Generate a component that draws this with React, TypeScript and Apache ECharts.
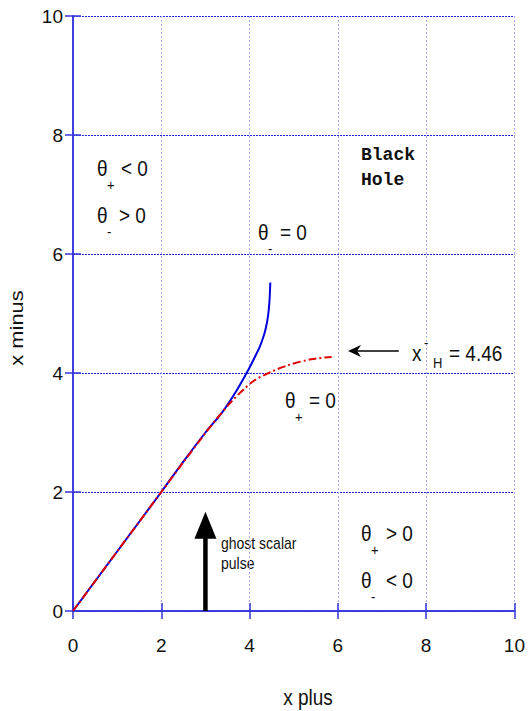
import React, { useEffect, useRef } from "react";
import * as echarts from "echarts";

// Apparent horizon curves in the (x plus, x minus) plane
const thetaMinusZero: [number, number][] = [
  [0, 0], [1, 1], [2, 2], [2.5, 2.51], [3.0, 3.0], [3.37, 3.33], [3.71, 3.71],
  [3.97, 4.05], [4.12, 4.27], [4.23, 4.44], [4.31, 4.6], [4.37, 4.76],
  [4.42, 4.97], [4.45, 5.2], [4.47, 5.52],
];
const thetaPlusZero: [number, number][] = [
  [0, 0], [1, 1], [2, 2], [2.5, 2.5], [3.0, 2.99], [3.3, 3.27], [3.59, 3.52],
  [3.89, 3.74], [4.12, 3.88], [4.49, 4.02], [4.87, 4.13], [5.39, 4.23], [5.86, 4.27],
];

// Arrow annotations: [x, yFrom, yTo] and [xFrom, xTo, y]
const pulseArrow = [3, 0, 1.67];
const horizonArrow = [7.38, 6.23, 4.37];

const xTicks = { min: 0, max: 10, interval: 2 };
const yTicks = { min: 0, max: 10, interval: 2 };

const FONT = "Liberation Sans, Arial, sans-serif";
const STRETCH = 1.15;

function label(x: number, y: number, text: string, size: number, extra: any = {}) {
  return {
    type: "text",
    x,
    y,
    scaleY: STRETCH,
    style: {
      text,
      fill: "#111",
      font: `${size}px ${FONT}`,
      textVerticalAlign: "middle",
      ...extra,
    },
  };
}

// theta with a subscript, followed by the rest of the relation
function thetaLabel(x: number, y: number, sub: string, rest: string, restX: number) {
  return [
    label(x, y, "θ", 19),
    label(x + 10, y + 17, sub, 13),
    label(restX, y, rest, 19),
  ];
}

export default function App() {
  const ref = useRef<HTMLDivElement>(null);

  useEffect(() => {
    document.body.style.margin = "0";
    if (!ref.current) return;
    const chart = echarts.init(ref.current, undefined, { renderer: "svg" });

    const axisLine = { show: true, lineStyle: { color: "#3535dd", width: 1.5 } };
    const axisTick = { show: true, inside: true, length: 8, lineStyle: { color: "#3535dd", width: 1.5 } };
    const tickLabel = { color: "#111", fontSize: 19, fontFamily: FONT };

    chart.setOption({
      animation: false,
      backgroundColor: "#fff",
      grid: { left: 73, right: 9, top: 16, bottom: 100 },
      xAxis: [
        {
          type: "value",
          ...xTicks,
          axisLine,
          axisTick,
          axisLabel: { ...tickLabel, margin: 25 },
          splitLine: { show: true, lineStyle: { color: "#a9a9f2", width: 1, type: [2, 2] } },
        },
        {
          type: "value",
          position: "top",
          ...xTicks,
          axisLine,
          axisTick,
          axisLabel: { show: false },
          splitLine: { show: false },
        },
      ],
      yAxis: [
        {
          type: "value",
          ...yTicks,
          axisLine,
          axisTick,
          axisLabel: { ...tickLabel, margin: 10 },
          splitLine: { show: true, lineStyle: { color: "#2424dc", width: 1, type: [2, 1] } },
        },
        {
          type: "value",
          position: "right",
          ...yTicks,
          axisLine,
          axisTick,
          axisLabel: { show: false },
          splitLine: { show: false },
        },
      ],
      series: [
        {
          type: "line",
          data: thetaMinusZero,
          showSymbol: false,
          smooth: 0.3,
          lineStyle: { color: "#0000dd", width: 2 },
          z: 3,
        },
        {
          type: "line",
          data: thetaPlusZero,
          showSymbol: false,
          smooth: 0.3,
          lineStyle: { color: "#e00000", width: 2, type: [8, 3, 2, 3] },
          z: 4,
        },
        {
          type: "custom",
          data: [pulseArrow],
          clip: false,
          z: 5,
          renderItem: (_params: any, api: any) => {
            const base = api.coord([api.value(0), api.value(1)]);
            const tip = api.coord([api.value(0), api.value(2)]);
            const headLen = 27;
            const headHalf = 11;
            return {
              type: "group",
              children: [
                {
                  type: "line",
                  shape: { x1: base[0], y1: base[1], x2: tip[0], y2: tip[1] + headLen - 1 },
                  style: { stroke: "#000", lineWidth: 4.5 },
                },
                {
                  type: "polygon",
                  shape: {
                    points: [
                      [tip[0], tip[1]],
                      [tip[0] - headHalf, tip[1] + headLen],
                      [tip[0] + headHalf, tip[1] + headLen],
                    ],
                  },
                  style: { fill: "#000" },
                },
              ],
            };
          },
        },
        {
          type: "custom",
          data: [horizonArrow],
          clip: false,
          z: 5,
          renderItem: (_params: any, api: any) => {
            const start = api.coord([api.value(0), api.value(2)]);
            const tip = api.coord([api.value(1), api.value(2)]);
            return {
              type: "group",
              children: [
                {
                  type: "line",
                  shape: { x1: start[0], y1: start[1], x2: tip[0] + 6, y2: tip[1] },
                  style: { stroke: "#000", lineWidth: 1.5 },
                },
                {
                  type: "polygon",
                  shape: {
                    points: [
                      [tip[0], tip[1]],
                      [tip[0] + 13, tip[1] - 6],
                      [tip[0] + 9, tip[1]],
                      [tip[0] + 13, tip[1] + 6],
                    ],
                  },
                  style: { fill: "#000" },
                },
              ],
            };
          },
        },
      ],
      graphic: [
        // axis titles
        label(308, 697, "x plus", 19, { textAlign: "center" }),
        {
          type: "text",
          x: 16,
          y: 328,
          rotation: Math.PI / 2,
          scaleX: STRETCH,
          style: {
            text: "x minus",
            fill: "#111",
            font: `19px ${FONT}`,
            textAlign: "center",
            textVerticalAlign: "middle",
          },
        },
        // region annotations
        ...thetaLabel(97, 168, "+", "< 0", 121),
        ...thetaLabel(97, 215, "-", "> 0", 119),
        ...thetaLabel(258, 232, "-", "= 0", 280),
        ...thetaLabel(285, 400, "+", "= 0", 309),
        ...thetaLabel(361, 533, "+", "> 0", 386),
        ...thetaLabel(361, 580, "-", "< 0", 386),
        {
          type: "text",
          x: 361,
          y: 167,
          style: {
            text: "Black\nHole",
            fill: "#111",
            font: `bold 18px "Liberation Mono", "Courier New", monospace`,
            lineHeight: 25,
            textVerticalAlign: "middle",
          },
        },
        // horizon label: x^-_H = 4.46
        label(412, 353, "x", 19),
        label(424, 343, "-", 13),
        label(433, 363, "H", 13),
        label(449, 353, "= 4.46", 19),
        // pulse label
        {
          type: "text",
          x: 221,
          y: 553,
          scaleY: STRETCH,
          style: {
            text: "ghost scalar\npulse",
            fill: "#111",
            font: `14px ${FONT}`,
            lineHeight: 17,
            textVerticalAlign: "middle",
          },
        },
      ],
    });

    return () => chart.dispose();
  }, []);

  return <div ref={ref} style={{ width: 528, height: 711 }} />;
}
